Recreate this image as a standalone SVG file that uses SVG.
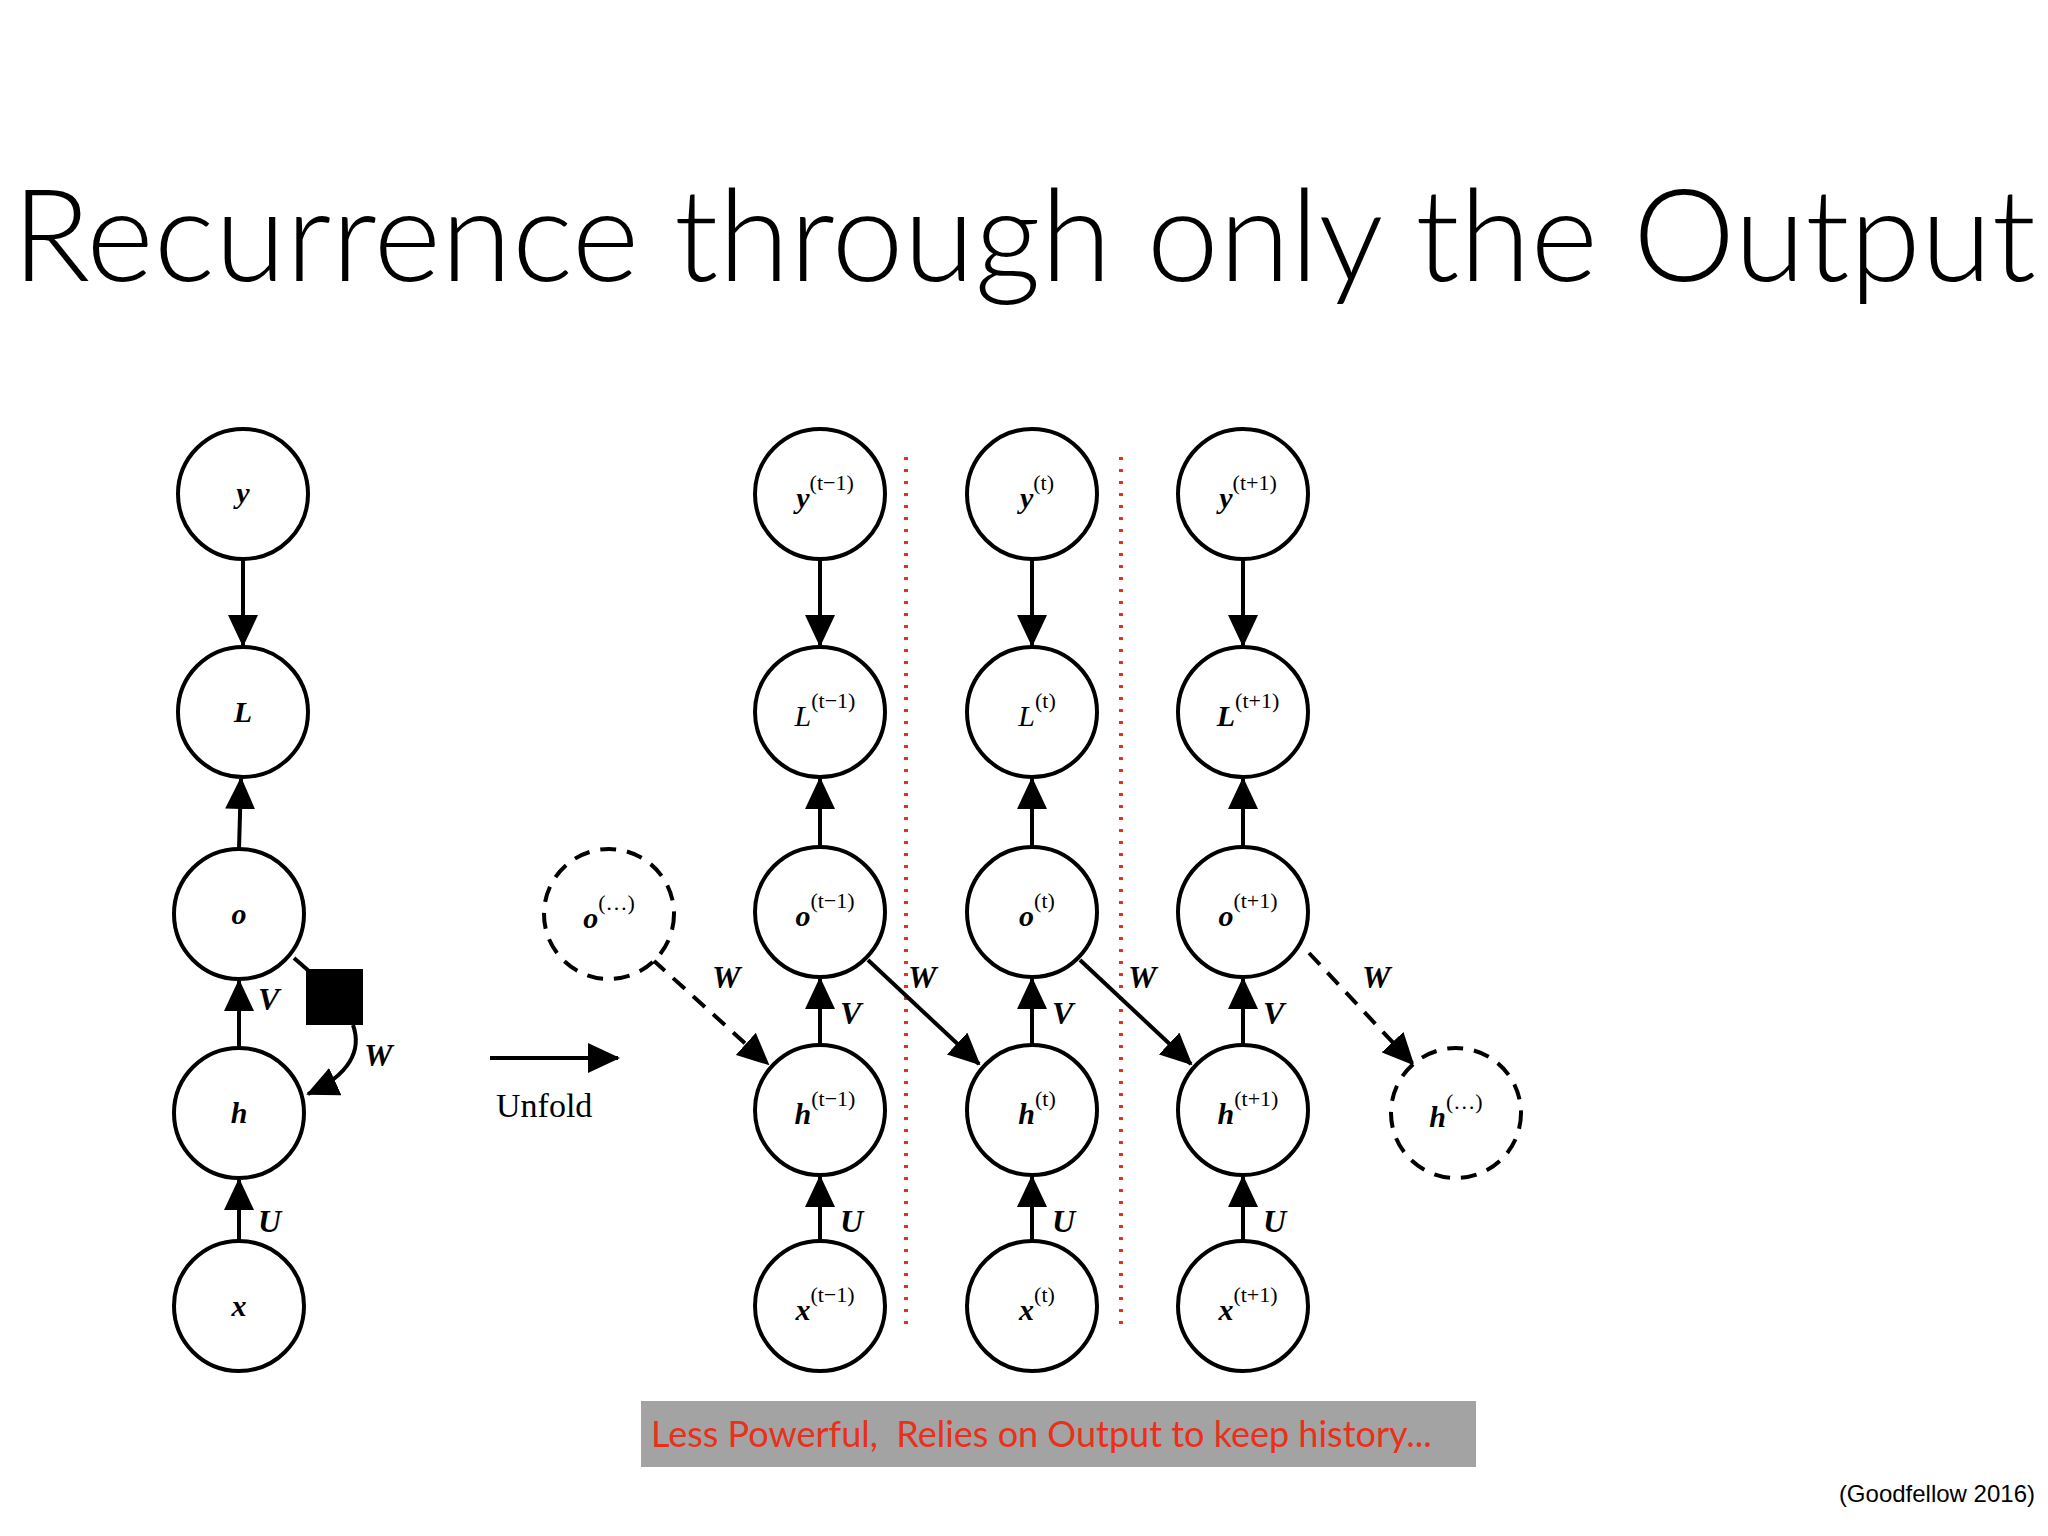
<svg xmlns="http://www.w3.org/2000/svg" width="2048" height="1536" viewBox="0 0 2048 1536">
<style>
.n{fill:#fff;stroke:#000;stroke-width:4}
.d{fill:#fff;stroke:#000;stroke-width:4;stroke-dasharray:16 11}
.m{font-family:"Liberation Serif",serif;font-weight:bold;font-style:italic;font-size:30px}
.s{font-family:"Liberation Serif",serif;font-size:22px}
.e{stroke:#000;stroke-width:4;fill:none}
.lb{font-family:"Liberation Serif",serif;font-weight:bold;font-style:italic;font-size:32px}
</style>
<defs>
<marker id="a" markerUnits="userSpaceOnUse" markerWidth="32" markerHeight="30" refX="30" refY="15" orient="auto"><path d="M0,0 L32,15 L0,30 Z" fill="#000"/></marker>
</defs>
<rect width="2048" height="1536" fill="#fff"/>
<text x="12" y="281" font-family="Lato, 'Noto Sans', sans-serif" font-weight="300" font-size="128" textLength="2024" lengthAdjust="spacingAndGlyphs">Recurrence through only the Output</text>
<g id="separators" stroke="#e8301c" stroke-width="4" stroke-dasharray="3 9">
<line x1="906" y1="457" x2="906" y2="1326"/><line x1="1121" y1="457" x2="1121" y2="1326"/>
</g>
<g id="connectors">
<line class="e" x1="243" y1="559" x2="243" y2="645" marker-end="url(#a)"/>
<line class="e" x1="239" y1="849" x2="241" y2="779" marker-end="url(#a)"/>
<line class="e" x1="239" y1="1048" x2="239" y2="981" marker-end="url(#a)"/>
<line class="e" x1="239" y1="1241" x2="239" y2="1180" marker-end="url(#a)"/>
<line class="e" x1="294" y1="958" x2="310" y2="972"/>
<path class="e" d="M353,1025 C362,1050 350,1075 308,1094" marker-end="url(#a)"/>
<line class="e" x1="490" y1="1058" x2="618" y2="1058" marker-end="url(#a)"/>
<g id="col">
<line class="e" x1="820" y1="559" x2="820" y2="645" marker-end="url(#a)"/>
<line class="e" x1="820" y1="847" x2="820" y2="779" marker-end="url(#a)"/>
<line class="e" x1="820" y1="1045" x2="820" y2="979" marker-end="url(#a)"/>
<line class="e" x1="820" y1="1241" x2="820" y2="1177" marker-end="url(#a)"/>
</g>
<use href="#col" x="212"/>
<use href="#col" x="423"/>
<line class="e" x1="653" y1="960" x2="768" y2="1064" stroke-dasharray="16 11" marker-end="url(#a)"/>
<line class="e" x1="868" y1="960" x2="979" y2="1064" marker-end="url(#a)"/>
<line class="e" x1="1080" y1="960" x2="1191" y2="1064" marker-end="url(#a)"/>
<line class="e" x1="1309" y1="953" x2="1413" y2="1064" stroke-dasharray="16 11" marker-end="url(#a)"/>
</g>
<g id="labels" class="lb">
<text x="258" y="1010">V</text><text x="364" y="1066">W</text><text x="258" y="1232">U</text>
<text x="840" y="1024">V</text><text x="840" y="1232">U</text>
<text x="1052" y="1024">V</text><text x="1052" y="1232">U</text>
<text x="1263" y="1024">V</text><text x="1263" y="1232">U</text>
<text x="712" y="988">W</text><text x="908" y="988">W</text><text x="1128" y="988">W</text><text x="1362" y="988">W</text>
</g>
<text x="496" y="1117" font-family="'Liberation Serif',serif" font-size="34">Unfold</text>
<rect id="square" x="306" y="969" width="57" height="56" fill="#000"/>
<g id="y"><circle class="n" cx="243" cy="494" r="65"/><text class="m" x="243" y="503" text-anchor="middle">y</text></g>
<g id="L"><circle class="n" cx="243" cy="712" r="65"/><text class="m" x="243" y="722" text-anchor="middle">L</text></g>
<g id="o"><circle class="n" cx="239" cy="914" r="65"/><text class="m" x="239" y="924" text-anchor="middle">o</text></g>
<g id="h"><circle class="n" cx="239" cy="1113" r="65"/><text class="m" x="239" y="1123" text-anchor="middle">h</text></g>
<g id="x"><circle class="n" cx="239" cy="1306" r="65"/><text class="m" x="239" y="1316" text-anchor="middle">x</text></g>
<g id="odots"><circle class="d" cx="609" cy="914" r="65"/><text x="609" y="928" text-anchor="middle"><tspan class="m">o</tspan><tspan class="s" dy="-18">(…)</tspan></text></g>
<g id="hdots"><circle class="d" cx="1456" cy="1113" r="65"/><text x="1456" y="1127" text-anchor="middle"><tspan class="m">h</tspan><tspan class="s" dy="-18">(…)</tspan></text></g>
<g id="y1"><circle class="n" cx="820" cy="494" r="65"/><text x="825" y="508" text-anchor="middle"><tspan class="m">y</tspan><tspan class="s" dy="-18">(t−1)</tspan></text></g>
<g id="y2"><circle class="n" cx="1032" cy="494" r="65"/><text x="1037" y="508" text-anchor="middle"><tspan class="m">y</tspan><tspan class="s" dy="-18">(t)</tspan></text></g>
<g id="y3"><circle class="n" cx="1243" cy="494" r="65"/><text x="1248" y="508" text-anchor="middle"><tspan class="m">y</tspan><tspan class="s" dy="-18">(t+1)</tspan></text></g>
<g id="L1"><circle class="n" cx="820" cy="712" r="65"/><text x="825" y="726" text-anchor="middle"><tspan font-family="'Liberation Serif',serif" font-style="italic" font-size="30">L</tspan><tspan class="s" dy="-18">(t−1)</tspan></text></g>
<g id="L2"><circle class="n" cx="1032" cy="712" r="65"/><text x="1037" y="726" text-anchor="middle"><tspan font-family="'Liberation Serif',serif" font-style="italic" font-size="30">L</tspan><tspan class="s" dy="-18">(t)</tspan></text></g>
<g id="L3"><circle class="n" cx="1243" cy="712" r="65"/><text x="1248" y="726" text-anchor="middle"><tspan class="m">L</tspan><tspan class="s" dy="-18">(t+1)</tspan></text></g>
<g id="o1"><circle class="n" cx="820" cy="912" r="65"/><text x="825" y="926" text-anchor="middle"><tspan class="m">o</tspan><tspan class="s" dy="-18">(t−1)</tspan></text></g>
<g id="o2"><circle class="n" cx="1032" cy="912" r="65"/><text x="1037" y="926" text-anchor="middle"><tspan class="m">o</tspan><tspan class="s" dy="-18">(t)</tspan></text></g>
<g id="o3"><circle class="n" cx="1243" cy="912" r="65"/><text x="1248" y="926" text-anchor="middle"><tspan class="m">o</tspan><tspan class="s" dy="-18">(t+1)</tspan></text></g>
<g id="h1"><circle class="n" cx="820" cy="1110" r="65"/><text x="825" y="1124" text-anchor="middle"><tspan class="m">h</tspan><tspan class="s" dy="-18">(t−1)</tspan></text></g>
<g id="h2"><circle class="n" cx="1032" cy="1110" r="65"/><text x="1037" y="1124" text-anchor="middle"><tspan class="m">h</tspan><tspan class="s" dy="-18">(t)</tspan></text></g>
<g id="h3"><circle class="n" cx="1243" cy="1110" r="65"/><text x="1248" y="1124" text-anchor="middle"><tspan class="m">h</tspan><tspan class="s" dy="-18">(t+1)</tspan></text></g>
<g id="x1"><circle class="n" cx="820" cy="1306" r="65"/><text x="825" y="1320" text-anchor="middle"><tspan class="m">x</tspan><tspan class="s" dy="-18">(t−1)</tspan></text></g>
<g id="x2"><circle class="n" cx="1032" cy="1306" r="65"/><text x="1037" y="1320" text-anchor="middle"><tspan class="m">x</tspan><tspan class="s" dy="-18">(t)</tspan></text></g>
<g id="x3"><circle class="n" cx="1243" cy="1306" r="65"/><text x="1248" y="1320" text-anchor="middle"><tspan class="m">x</tspan><tspan class="s" dy="-18">(t+1)</tspan></text></g>
<g id="note"><rect x="641" y="1401" width="835" height="66" fill="#a3a3a3"/><text x="651" y="1447" font-family="Lato, 'Noto Sans', sans-serif" font-size="36" fill="#e8301c" xml:space="preserve">Less Powerful,  Relies on Output to keep history...</text></g>
<text x="2035" y="1502" text-anchor="end" font-family="'Liberation Sans',sans-serif" font-size="24">(Goodfellow 2016)</text>
</svg>
